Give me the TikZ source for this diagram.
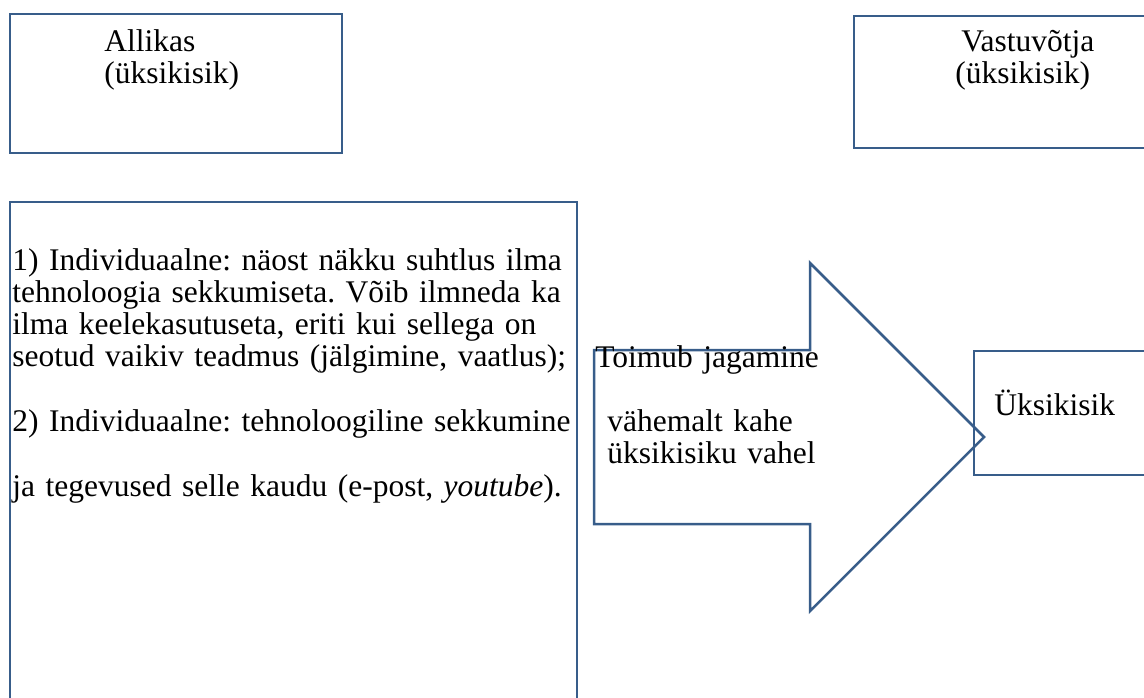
\documentclass[tikz,border=0pt]{standalone}
\usepackage{fontspec}
\setmainfont{Liberation Serif}
\definecolor{outline}{RGB}{56,93,138}
\newcommand\diagfont{\fontsize{15.75pt}{16.15pt}\selectfont\frenchspacing}
\begin{document}
\begin{tikzpicture}[x=0.5pt,y=-0.5pt,
  frame/.style={draw=outline, line width=1.25pt, inner sep=0pt, rectangle},
  txt/.style={inner sep=0pt, anchor=base west, align=left, text width=300pt, font=\diagfont},
]
\useasboundingbox (0,0) rectangle (1144,697);
\clip (0,0) rectangle (1144,697);

% boxes
\node[frame, minimum width=166pt, minimum height=69.5pt] (srcbox) at (176,83.5) {};
\node[frame, minimum width=153pt, minimum height=66pt] (rcvbox) at (1007,82) {};
\node[frame, minimum width=283.5pt, minimum height=259pt] (kindbox) at (293.5,461) {};
\node[frame, minimum width=93pt, minimum height=62pt] (personbox) at (1067,413) {};

% block arrow
\coordinate (a1) at (594,350);
\coordinate (a2) at (810,350);
\coordinate (a3) at (810,263);
\coordinate (tip) at (984,437);
\coordinate (a5) at (810,611);
\coordinate (a6) at (810,524);
\coordinate (a7) at (594,524);
\draw[outline, line width=1.25pt, line join=miter]
  (a1) -- (a2) -- (a3) -- (tip) -- (a5) -- (a6) -- (a7) -- cycle;

% texts
\node[txt] (srctxt) at (104,51) {Allikas\\(üksikisik)};
\node[txt] (rcvtxt) at (955,51) {\hspace*{3pt}Vastuvõtja\\(üksikisik)};
\node[txt] (kindtxt) at (12,270) {1) Individuaalne: näost näkku suhtlus ilma\\
tehnoloogia sekkumiseta. Võib ilmneda ka\\
ilma keelekasutuseta, eriti kui sellega on\\
seotud vaikiv teadmus (jälgimine, vaatlus);\\[16.15pt]
2) Individuaalne: tehnoloogiline sekkumine\\[16.15pt]
ja tegevused selle kaudu (e-post, \textit{youtube}).};
\node[txt] (arrowtxt) at (595,367) {Toimub jagamine\\[16.15pt]
\hspace*{6pt}vähemalt kahe\\
\hspace*{6pt}üksikisiku vahel};
\node[txt] (persontxt) at (994,415) {Üksikisik};
\end{tikzpicture}
\end{document}
